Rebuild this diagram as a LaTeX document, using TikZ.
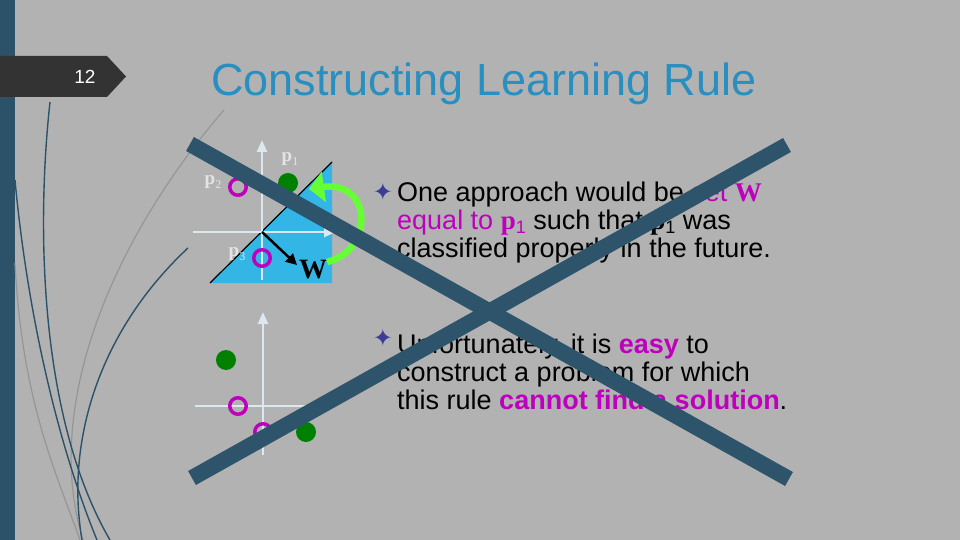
\documentclass[tikz,border=0pt]{standalone}
\usepackage{fontspec}
\setmainfont{Liberation Sans}
\newfontfamily\serifp{Liberation Serif}
\newfontfamily\dejavu{DejaVu Sans}
\usetikzlibrary{arrows.meta}
\definecolor{bg}{RGB}{178,178,178}
\definecolor{barc}{RGB}{43,82,104}
\definecolor{tabc}{RGB}{51,51,51}
\definecolor{titleblue}{RGB}{40,143,192}
\definecolor{tri}{RGB}{51,181,229}
\definecolor{axisc}{RGB}{220,232,238}
\definecolor{mag}{RGB}{190,0,190}
\definecolor{dgreen}{RGB}{0,128,0}
\definecolor{lgreen}{RGB}{102,255,51}
\definecolor{xline}{RGB}{45,84,106}
\definecolor{starc}{RGB}{60,60,150}
\definecolor{lbl}{RGB}{228,228,228}
\definecolor{graycurve}{RGB}{150,150,150}
\newcommand{\bp}{{\serifp\bfseries p}}
\newcommand{\sbs}[1]{\raisebox{-0.15em}{\fontsize{18}{18}\selectfont #1}}
\newcommand{\lsb}[1]{\raisebox{-0.2em}{\fontsize{12}{12}\selectfont\mdseries #1}}
\tikzset{
  deco/.style={barc, line width=1.4},
  decogray/.style={graycurve, line width=1.2},
  axisline/.style={axisc, line width=2.5},
  axisarrow/.style={axisline, -{Triangle[width=10pt,length=12pt]}},
  gdot/.style={circle, fill=dgreen, minimum size=20, inner sep=0},
  odot/.style={circle, draw=mag, line width=3.5, minimum size=16.5, inner sep=0},
  plabel/.style={text=lbl, font=\serifp\bfseries\fontsize{19}{19}\selectfont, inner sep=0},
  bodytext/.style={anchor=base west, inner sep=0, font=\fontsize{27}{28}\selectfont},
  bullet/.style={text=starc, font=\dejavu\fontsize{24}{24}\selectfont, inner sep=0},
  bigx/.style={xline, line width=16},
}
\begin{document}
\begin{tikzpicture}[x=1pt,y=-1pt]
\fill[bg] (0,0) rectangle (960,540);
\useasboundingbox (0,0) rectangle (960,540);
\fill[barc] (0,0) rectangle (15,540);
% decorative curves
\draw[decogray] (224,110) .. controls (120,230) and (40,400) .. (83,540);
\draw[decogray] (15,263) .. controls (22,400) and (55,470) .. (80,540);
\draw[deco] (50,102) .. controls (36,230) and (40,420) .. (110,540);
\draw[deco] (15,180) .. controls (28,320) and (60,450) .. (97,540);
\draw[deco] (188,248) .. controls (100,330) and (65,440) .. (82,540);
% page tab
\fill[tabc] (0,56) -- (107,56) -- (126,76.5) -- (107,97) -- (0,97) -- cycle;
\node[text=white, font=\fontsize{19}{19}\selectfont] (num) at (85,77) {12};
% title
\node[anchor=base west, text=titleblue, font=\fontsize{45}{45}\selectfont, inner sep=0] (title) at (211,96) {Constructing Learning Rule};
% top diagram
\coordinate (ta) at (210,283);
\coordinate (tb) at (332,162);
\coordinate (tc) at (332,283);
\fill[tri] (ta) -- (tb) -- (tc) -- cycle;
\draw[black, line width=1.2] (ta) -- (tb);
\coordinate (o1) at (262,232);
\coordinate (v1a) at (262,280);
\coordinate (v1b) at (262,140);
\coordinate (h1a) at (193,232);
\coordinate (h1b) at (336,232);
\draw[axisarrow] (v1a) -- (v1b);
\draw[axisarrow] (h1a) -- (h1b);
\coordinate (wend) at (297,265);
\draw[black, line width=2.5, -{Triangle[width=11pt,length=11pt]}] (o1) -- (wend);
\node[font=\serifp\bfseries\fontsize{28}{28}\selectfont, inner sep=0] (wl) at (313,270) {W};
\node[gdot] (p1) at (288,183) {};
\node[odot] (p2) at (238,187) {};
\node[odot] (p3) at (262,258) {};
\node[plabel] (l1) at (290,159) {p\lsb{1}};
\node[plabel] (l2) at (213,182) {p\lsb{2}};
\node[plabel] (l3) at (237,254) {p\lsb{3}};
\coordinate (ga) at (327,262);
\coordinate (gb) at (309,189);
\draw[lgreen, line width=6.5, -{Triangle[width=30pt,length=15pt]}] (ga) .. controls (375,250) and (372,180) .. (gb);
% bottom diagram
\coordinate (v2a) at (263,455);
\coordinate (v2b) at (263,312);
\coordinate (h2a) at (195,406);
\coordinate (h2b) at (313,406);
\draw[axisarrow] (v2a) -- (v2b);
\draw[axisline] (h2a) -- (h2b);
\node[gdot] (q1) at (226,360) {};
\node[gdot] (q2) at (306,432) {};
\node[odot] (q3) at (238,406) {};
\node[odot] (q4) at (263,432) {};
% text
\node[bullet] (b1) at (383,192) {✦};
\node[bodytext] (t1) at (397,201) {One approach would be {\color{mag}set \serifp\bfseries W}};
\node[bodytext] (t2) at (397,229) {{\color{mag}equal to \bp\sbs{1}} such that \bp\sbs{1} was};
\node[bodytext] (t3) at (397,257) {classified properly in the future.};
\node[bullet] (b2) at (383,338) {✦};
\node[bodytext] (t4) at (397,353) {Unfortunately, it is {\color{mag}\bfseries easy} to};
\node[bodytext] (t5) at (397,381) {construct a problem for which};
\node[bodytext] (t6) at (397,409) {this rule {\color{mag}\bfseries cannot find a solution}.};
% big X
\coordinate (xa) at (190,144);
\coordinate (xb) at (789,479);
\coordinate (xc) at (192,478);
\coordinate (xd) at (787,145);
\draw[bigx] (xa) -- (xb);
\draw[bigx] (xc) -- (xd);
\end{tikzpicture}
\end{document}
